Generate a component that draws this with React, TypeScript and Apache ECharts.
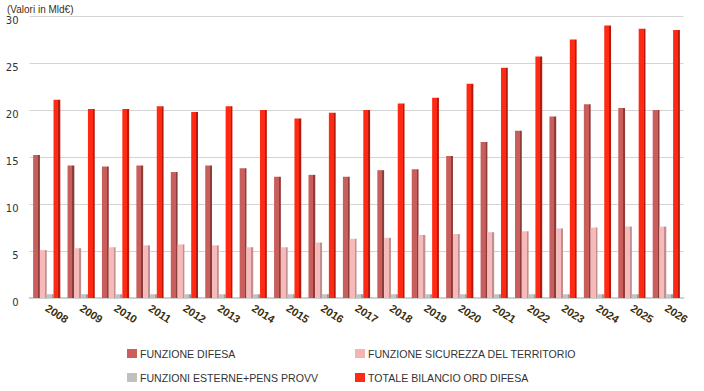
import React, { useEffect, useRef } from "react";
import * as echarts from "echarts";

const years = ["2008","2009","2010","2011","2012","2013","2014","2015","2016","2017","2018","2019","2020","2021","2022","2023","2024","2025","2026"];
const difesa = [15.2, 14.1, 14.0, 14.1, 13.4, 14.1, 13.8, 12.9, 13.1, 12.9, 13.6, 13.7, 15.1, 16.6, 17.8, 19.3, 20.6, 20.2, 20.0];
const sicurezza = [5.1, 5.3, 5.4, 5.6, 5.7, 5.6, 5.4, 5.4, 5.9, 6.3, 6.4, 6.7, 6.8, 7.0, 7.1, 7.4, 7.5, 7.6, 7.6];
const esterne = [0.4, 0.4, 0.4, 0.4, 0.4, 0.4, 0.4, 0.4, 0.4, 0.4, 0.4, 0.4, 0.4, 0.4, 0.4, 0.4, 0.4, 0.4, 0.4];
const totale = [21.1, 20.1, 20.1, 20.4, 19.8, 20.4, 20.0, 19.1, 19.7, 20.0, 20.7, 21.3, 22.8, 24.5, 25.7, 27.5, 29.0, 28.65, 28.5];
const yTicks = { min: 0, max: 30, interval: 5 };

const names = [
  "FUNZIONE DIFESA",
  "FUNZIONE SICUREZZA DEL TERRITORIO",
  "FUNZIONI ESTERNE+PENS PROVV",
  "TOTALE BILANCIO ORD DIFESA",
];

function shade(front: string, side: string) {
  return new echarts.graphic.LinearGradient(0, 0, 1, 0, [
    { offset: 0, color: front },
    { offset: 0.72, color: front },
    { offset: 0.73, color: side },
    { offset: 1, color: side },
  ]);
}

export default function App() {
  const ref = useRef<HTMLDivElement>(null);
  useEffect(() => {
    if (!ref.current) return;
    const chart = echarts.init(ref.current, null, { renderer: "svg" });
    const font = "Liberation Sans";
    const mk = (name: string, data: number[], front: string, side: string) => ({
      name,
      type: "bar",
      data,
      barGap: "0%",
      barCategoryGap: "21%",
      itemStyle: { color: shade(front, side) },
    });
    const series = [
      mk(names[0], difesa, "#c95f5c", "#8e3c3a"),
      mk(names[1], sicurezza, "#f6baba", "#c08f8f"),
      mk(names[2], esterne, "#c2c2c2", "#9a9a9a"),
      mk(names[3], totale, "#ff2a14", "#b51a0c"),
    ];
    const legendColors = ["#cd5c5c", "#f4b4b4", "#c0c0c0", "#ff2a14"];
    const legendCommon = {
      orient: "vertical",
      top: 343,
      itemWidth: 10,
      itemHeight: 9,
      itemGap: 13,
      icon: "rect",
      textStyle: { fontFamily: font, fontSize: 10.6, color: "#333333", padding: [0, 0, 0, -2] },
    };
    chart.setOption({
      animation: false,
      backgroundColor: "#ffffff",
      grid: { left: 29.5, right: 20.5, top: 16, bottom: 93 },
      graphic: [
        {
          type: "text",
          left: 7,
          top: 4,
          style: { text: "(Valori in Mld€)", fontFamily: font, fontSize: 10, fill: "#3a3020" },
        },
      ],
      legend: [
        {
          ...legendCommon,
          left: 122,
          data: [
            { name: names[0], itemStyle: { color: legendColors[0] } },
            { name: names[2], itemStyle: { color: legendColors[2] } },
          ],
        },
        {
          ...legendCommon,
          left: 350,
          data: [
            { name: names[1], itemStyle: { color: legendColors[1] } },
            { name: names[3], itemStyle: { color: legendColors[3] } },
          ],
        },
      ],
      xAxis: {
        type: "category",
        data: years,
        axisTick: { show: false },
        axisLine: { show: true, lineStyle: { color: "#d0d0d0", width: 2 } },
        axisLabel: {
          rotate: -33,
          interval: 0,
          margin: 9,
          fontFamily: font,
          fontSize: 11,
          fontWeight: "bold",
          color: "#3b2f0c",
        },
      },
      yAxis: {
        type: "value",
        min: yTicks.min,
        max: yTicks.max,
        interval: yTicks.interval,
        axisLine: { show: false },
        axisTick: { show: false },
        splitLine: { lineStyle: { color: "#d4d4d4", width: 1 } },
        axisLabel: {
          fontFamily: "DejaVu Sans",
          fontSize: 10,
          color: "#333333",
          margin: 11,
          verticalAlign: "top",
          lineHeight: 8,
        },
      },
      series,
    });
    return () => chart.dispose();
  }, []);
  return (
    <div
      ref={ref}
      style={{ position: "fixed", left: 0, top: 0, width: 704, height: 391 }}
    />
  );
}
